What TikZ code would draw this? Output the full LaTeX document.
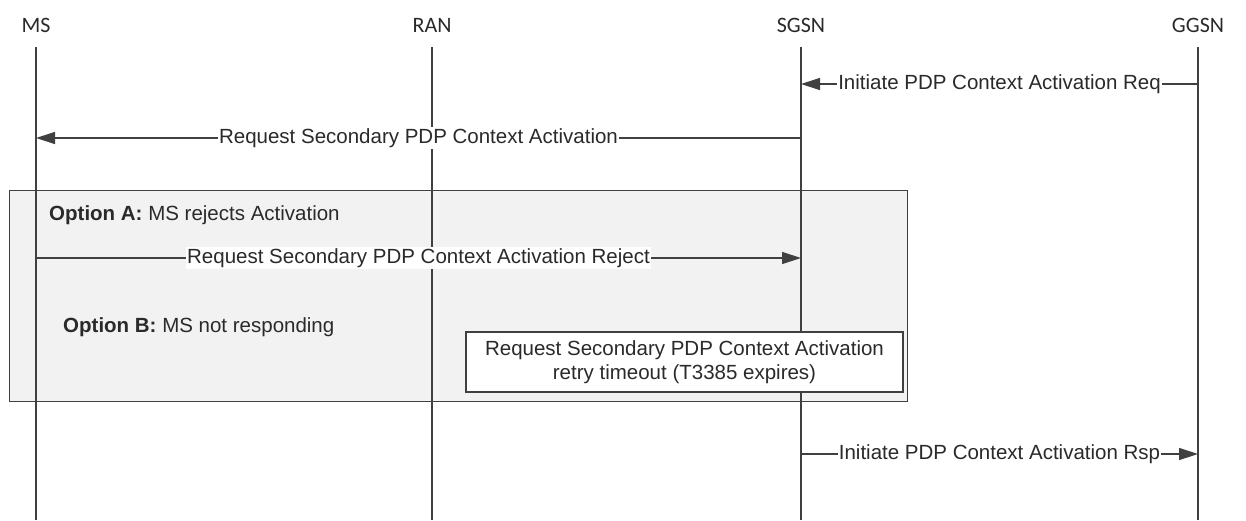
\documentclass[tikz,border=0pt]{standalone}
\usepackage{fontspec}
\setmainfont{Liberation Sans}
\newfontfamily\hdrfont{Carlito}
\usetikzlibrary{arrows.meta}
\definecolor{ln}{HTML}{404040}
\definecolor{tx}{HTML}{2A2A2A}
\definecolor{boxfill}{HTML}{F2F2F2}
\tikzset{
  hdr/.style={font=\hdrfont\fontsize{22}{24}\selectfont, text=tx, inner sep=0pt},
  life/.style={draw=ln, line width=1.3pt},
  msg/.style={draw=ln, line width=1.3pt, -{Triangle[length=19pt,width=12pt]}},
  mlabel/.style={font=\fontsize{20.5}{23}\selectfont, text=tx, fill=white, inner sep=1pt},
  optbox/.style={draw=ln, line width=1.3pt, fill=boxfill, anchor=north west, inner sep=0pt},
  notebox/.style={draw=ln, line width=1.3pt, fill=white, align=center, text=tx,
     font=\fontsize{20.5}{24}\selectfont, inner sep=0pt},
  opttext/.style={font=\fontsize{20.5}{23}\selectfont, text=tx, anchor=west, inner sep=0pt}
}
\begin{document}
\begin{tikzpicture}[x=1pt,y=-1pt]
\useasboundingbox (0,0) rectangle (1246,520);
% headers
\node[hdr] (ms)   at (36,25)   {MS};
\node[hdr] (ran)  at (432,25)  {RAN};
\node[hdr] (sgsn) at (801,25)  {SGSN};
\node[hdr] (ggsn) at (1198,25) {GGSN};
% option box
\node[optbox, minimum width=898pt, minimum height=211pt] (opt) at (9,190) {};
% lifelines
\coordinate (msT) at (36,47);   \coordinate (msB) at (36,520);
\coordinate (ranT) at (432,47); \coordinate (ranB) at (432,520);
\coordinate (sgT) at (801,47);  \coordinate (sgB) at (801,520);
\coordinate (ggT) at (1198,47); \coordinate (ggB) at (1198,520);
\draw[life] (msT) -- (msB);
\draw[life] (ranT) -- (ranB);
\draw[life] (sgT) -- (sgB);
\draw[life] (ggT) -- (ggB);
% message endpoints
\coordinate (m1a) at (1198,84); \coordinate (m1b) at (801,84);
\coordinate (m2a) at (801,138); \coordinate (m2b) at (36,138);
\coordinate (m3a) at (36,258);  \coordinate (m3b) at (801,258);
\coordinate (m4a) at (801,454); \coordinate (m4b) at (1198,454);
\draw[msg] (m1a) -- node[mlabel] {Initiate PDP Context Activation Req} (m1b);
\draw[msg] (m2a) -- node[mlabel] {Request Secondary PDP Context Activation} (m2b);
\draw[msg] (m3a) -- node[mlabel] {Request Secondary PDP Context Activation Reject} (m3b);
\draw[msg] (m4a) -- node[mlabel] {Initiate PDP Context Activation Rsp} (m4b);
% option texts
\node[opttext] (optA) at (49,215) {\textbf{Option A:} MS rejects Activation};
\node[opttext] (optB) at (63,327) {\textbf{Option B:} MS not responding};
% timeout note
\node[notebox, minimum width=437pt, minimum height=60pt] (note) at (684.5,362)
  {Request Secondary PDP Context Activation\\retry timeout (T3385 expires)};
\end{tikzpicture}
\end{document}
